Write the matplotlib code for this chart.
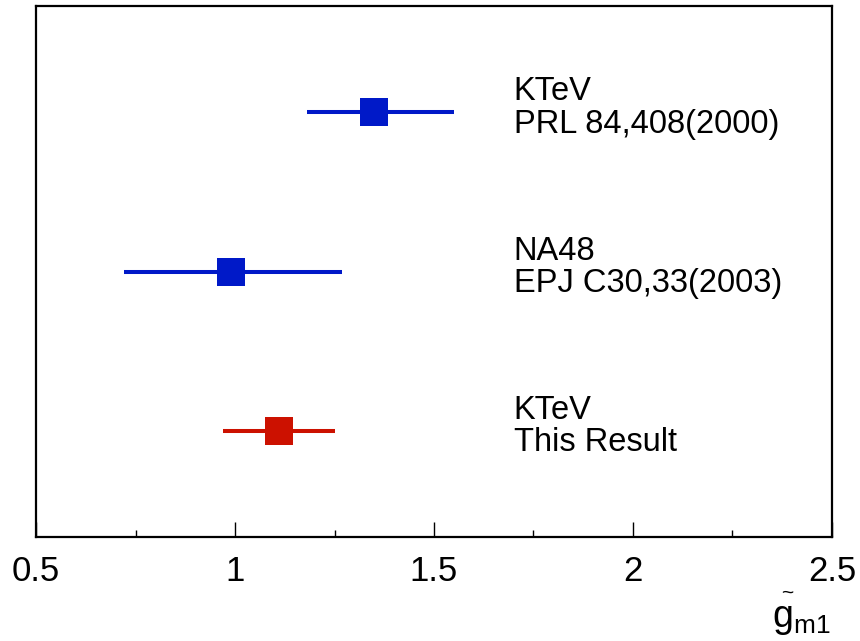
import numpy as np
import matplotlib
matplotlib.use("Agg")
import matplotlib.pyplot as plt
from matplotlib.ticker import MultipleLocator

plt.rcParams['font.family'] = ['Liberation Sans', 'DejaVu Sans']
plt.rcParams['mathtext.fontset'] = 'custom'
plt.rcParams['mathtext.rm'] = 'Liberation Sans'
plt.rcParams['mathtext.it'] = 'Liberation Sans'

# measurements of g~m1
experiments = ['KTeV\nPRL 84,408(2000)', 'NA48\nEPJ C30,33(2003)', 'KTeV\nThis Result']
values = [1.35, 0.99, 1.11]
err_low = [0.17, 0.27, 0.14]
err_high = [0.20, 0.28, 0.14]
rows = [0.8, 0.5, 0.2]
colors = ['#0019c8', '#0019c8', '#cc1100']
label_x = 1.7

fig = plt.figure(figsize=(8.6, 6.41), dpi=100)
ax = fig.add_axes([0.0419, 0.1622, 0.9255, 0.8284])

for i in range(len(values)):
    ax.errorbar(values[i], rows[i], xerr=[[err_low[i]], [err_high[i]]],
                fmt='s', color=colors[i], markersize=19.5, elinewidth=2.9,
                capsize=0, markeredgewidth=0)
    ax.text(label_x, rows[i] + 0.008, experiments[i], fontsize=23.5, va='center',
            ha='left', linespacing=1.05)

ax.set_xlim(0.5, 2.5)
ax.set_ylim(0, 1)
ax.xaxis.set_minor_locator(MultipleLocator(0.25))
ax.set_xticks([0.5, 1, 1.5, 2, 2.5])
ax.set_xticklabels(['0.5', '1', '1.5', '2', '2.5'])
ax.tick_params(axis='x', which='major', direction='in', length=11, width=1,
               labelsize=25, pad=13, top=False)
ax.tick_params(axis='x', which='minor', direction='in', length=5, width=1, top=False)
ax.set_yticks([])
for s in ax.spines.values():
    s.set_linewidth(1.6)

# axis title: g~ with subscript m1, tilde drawn separately like ROOT does
fig.text(0.966, 0.022, r'$\mathrm{g}_{\mathrm{m1}}$', fontsize=27, ha='right', va='baseline')
fig.text(0.9155, 0.075, '~', fontsize=15, ha='center', va='center')

fig.savefig('out.png', dpi=100)
